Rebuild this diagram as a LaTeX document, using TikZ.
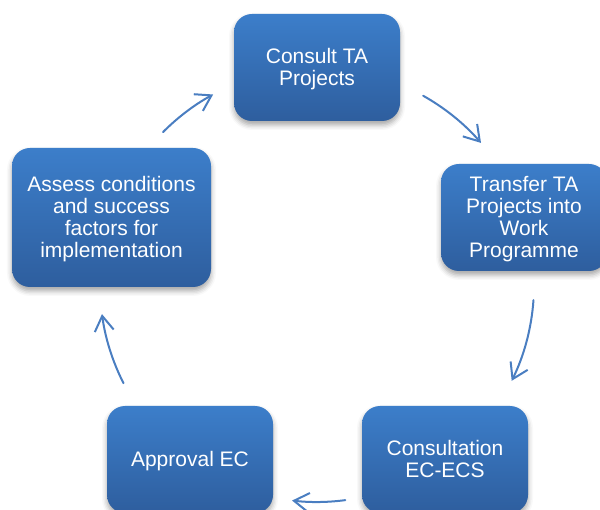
\documentclass[tikz,border=0pt]{standalone}
\usepackage{fontspec}
\setmainfont{Liberation Sans}
\usetikzlibrary{arrows.meta,calc,shadows.blur}
\definecolor{boxtop}{RGB}{60,126,202}
\definecolor{boxbot}{RGB}{46,94,158}
\definecolor{arrowblue}{RGB}{74,126,193}
% centred lines of a stage, set a little below the middle of the box
\newcommand{\stagetext}[1]{\raisebox{-2.5pt}[\height][\depth]{\begin{tabular}{@{}c@{}}#1\end{tabular}}}
\tikzset{
  stagebox/.style={
    rounded corners=18pt, inner sep=0pt,
    minimum width=166pt, minimum height=107pt,
    top color=boxtop, bottom color=boxbot, draw=none,
    text=white,
    font=\fontsize{21}{22}\selectfont,
    blur shadow={shadow xshift=0pt, shadow yshift=-4pt,
      shadow blur radius=5pt, shadow opacity=35}
  },
  cyclearrow/.style={
    draw=arrowblue, line width=2pt, line cap=round,
    -{Straight Barb[length=15pt,width=19pt,line width=2pt]}
  }
}
\begin{document}
\begin{tikzpicture}[x=1pt,y=1pt]
  \useasboundingbox (0,0) rectangle (600,509);

  % stages of the cycle
  \node[stagebox] (consult) at (317,441.5) {\stagetext{Consult TA\\Projects}};
  \node[stagebox] (transfer) at (524,291.5) {\stagetext{Transfer TA\\Projects into\\Work\\Programme}};
  \node[stagebox] (consultation) at (445,49.5) {\stagetext{Consultation\\EC-ECS}};
  \node[stagebox] (approval) at (190,49.5) {\stagetext{Approval EC}};
  \node[stagebox, minimum width=199pt, minimum height=139pt] (assess) at (111.5,291.5)
    {\stagetext{Assess conditions\\and success\\factors for\\implementation}};

  % arcs of the cycle, all on one circle
  \coordinate (O) at (317,224);
  \def\rad{217}
  \coordinate (a1) at ($(O)+(60.7:\rad)$);
  \coordinate (a2) at ($(O)+(-4:\rad)$);
  \coordinate (a3) at ($(O)+(-82.5:\rad)$);
  \coordinate (a4) at ($(O)+(206.9:\rad)$);
  \coordinate (a5) at ($(O)+(135.2:\rad)$);

  \draw[cyclearrow] (a1) arc[start angle=60.7, end angle=40.9, radius=\rad];
  \draw[cyclearrow] (a2) arc[start angle=-4, end angle=-26.2, radius=\rad];
  \draw[cyclearrow] (a3) arc[start angle=-82.5, end angle=-96.6, radius=\rad];
  \draw[cyclearrow] (a4) arc[start angle=206.9, end angle=187.7, radius=\rad];
  \draw[cyclearrow] (a5) arc[start angle=135.2, end angle=118.6, radius=\rad];
\end{tikzpicture}
\end{document}
